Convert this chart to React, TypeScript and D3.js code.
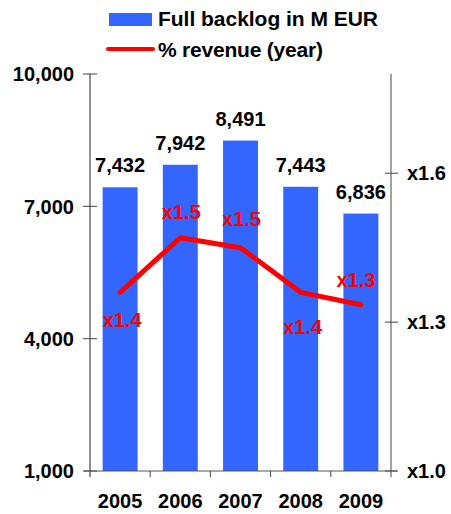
import React from 'react';
import * as d3 from 'd3';

const years = ['2005', '2006', '2007', '2008', '2009'];
const backlog = [7432, 7942, 8491, 7443, 6836];
const ratio = [1.36, 1.47, 1.45, 1.36, 1.335];
const ratioLabels = ['x1.4', 'x1.5', 'x1.5', 'x1.4', 'x1.3'];
const leftTicks = [1000, 4000, 7000, 10000];
const rightTicks = [1.0, 1.3, 1.6];

// label placement around each point (dx, dy from the point)
const labelOffsets: [number, number][] = [[2, 35], [1, -19], [1, -22], [2, 42], [-5, -18]];

const width = 451;
const height = 514;
const axL = 90;
const axR = 391;
const top = 74;
const bottom = 471;

const blue = '#3366ff';
const red = '#ff0000';
const font = 'Arial, "Liberation Sans", Helvetica, sans-serif';

export default function App() {
  const x = d3.scaleBand<string>().domain(years).range([axL, axR]).paddingInner(0.42).paddingOuter(0.21);
  const yL = d3.scaleLinear().domain([1000, 10000]).range([bottom, top]);
  const yR = d3.scaleLinear().domain([1.0, 1.8]).range([bottom, top]);
  const fmt = d3.format(',');

  const line = d3.line<number>()
    .x((_, i) => x(years[i])! + x.bandwidth() / 2)
    .y(d => yR(d));

  const step = x.step();
  const seps = years.slice(1).map(y => x(y)! - (step - x.bandwidth()) / 2);

  return (
    <svg width={width} height={height} style={{ position: 'absolute', left: 0, top: 0 }}
      fontFamily={font} fontWeight="bold">
      {/* legend */}
      <rect x={109} y={13} width={43} height={13} fill={blue} />
      <text x={158} y={26} fontSize={21} fill="#000" textLength={220} lengthAdjust="spacing">Full backlog in M EUR</text>
      <line x1={108} x2={153} y1={49} y2={49} stroke={red} strokeWidth={4} strokeLinecap="round" />
      <text x={158} y={57} fontSize={21} fill="#000" textLength={165} lengthAdjust="spacing">% revenue (year)</text>

      {/* bars */}
      {backlog.map((v, i) => (
        <rect key={years[i]} x={x(years[i])} y={yL(v)} width={x.bandwidth()} height={bottom - yL(v)} fill={blue} />
      ))}
      {backlog.map((v, i) => (
        <text key={'v' + i} x={x(years[i])! + x.bandwidth() / 2} y={yL(v) - 15} textAnchor="middle" fontSize={20} fill="#000">
          {fmt(v)}
        </text>
      ))}

      {/* left axis */}
      <line x1={axL} x2={axL} y1={top} y2={bottom + 6} stroke="#222" strokeWidth={1} />
      {leftTicks.map(t => (
        <g key={t}>
          <line x1={axL - 7} x2={axL + 7} y1={yL(t)} y2={yL(t)} stroke="#444" />
          <text x={74} y={yL(t)} dy="0.36em" textAnchor="end" fontSize={20} fill="#000">{fmt(t)}</text>
        </g>
      ))}

      {/* right axis */}
      <line x1={axR} x2={axR} y1={top} y2={bottom + 6} stroke="#444" strokeWidth={1} />
      {rightTicks.map(t => (
        <g key={t}>
          <line x1={axR - 6} x2={axR + 7} y1={yR(t)} y2={yR(t)} stroke="#444" />
          <text x={407} y={yR(t)} dy="0.36em" fontSize={20} fill="#000">{'x' + t.toFixed(1)}</text>
        </g>
      ))}

      {/* category axis */}
      <line x1={axL - 6} x2={axR + 6} y1={bottom} y2={bottom} stroke="#555" />
      {seps.map((s, i) => (
        <line key={i} x1={s} x2={s} y1={bottom} y2={bottom + 6} stroke="#444" />
      ))}
      {years.map(y => (
        <text key={y} x={x(y)! + x.bandwidth() / 2} y={508} textAnchor="middle" fontSize={20} fill="#000">{y}</text>
      ))}

      {/* ratio line */}
      <path d={line(ratio)!} fill="none" stroke={red} strokeWidth={5} strokeLinejoin="round" strokeLinecap="round" />
      {ratio.map((r, i) => (
        <text key={'r' + i} x={x(years[i])! + x.bandwidth() / 2 + labelOffsets[i][0]} y={yR(r) + labelOffsets[i][1]}
          textAnchor="middle" fontSize={20} fill={red}>
          {ratioLabels[i]}
        </text>
      ))}
    </svg>
  );
}
